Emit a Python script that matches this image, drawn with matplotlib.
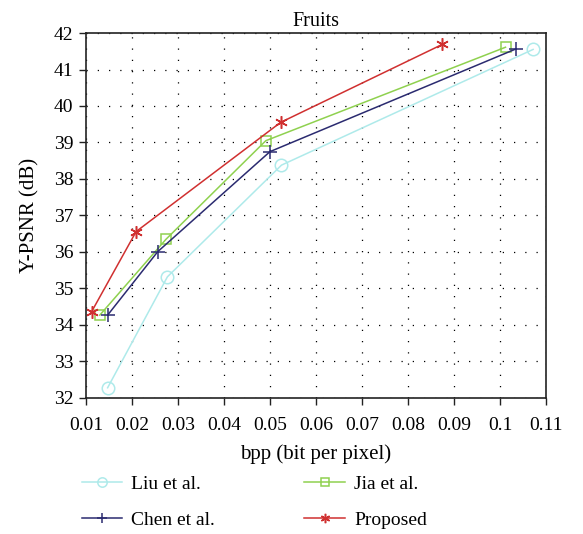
import matplotlib
matplotlib.use("Agg")
import matplotlib.pyplot as plt

# bpp vs Y-PSNR
liu_bpp = [0.0147, 0.0277, 0.0525, 0.1072]
liu_psnr = [32.28, 35.32, 38.38, 41.55]
jia_bpp = [0.0130, 0.0274, 0.0491, 0.1012]
jia_psnr = [34.27, 36.35, 39.05, 41.61]
chen_bpp = [0.0147, 0.0256, 0.0500, 0.1034]
chen_psnr = [34.27, 36.01, 38.75, 41.56]
prop_bpp = [0.0112, 0.0209, 0.0523, 0.0875]
prop_psnr = [34.36, 36.56, 39.55, 41.69]

x_ticks = [0.01, 0.02, 0.03, 0.04, 0.05, 0.06, 0.07, 0.08, 0.09, 0.1, 0.11]
x_labels = ['0.01', '0.02', '0.03', '0.04', '0.05', '0.06', '0.07', '0.08', '0.09', '0.1', '0.11']
y_ticks = list(range(32, 43))

plt.rcParams['font.family'] = ['Liberation Serif', 'DejaVu Serif']


def main():
    fig = plt.figure(figsize=(5.83, 5.34), dpi=100)
    ax = fig.add_axes([0.1475, 0.2547, 0.789, 0.6835])

    l1, = ax.plot(liu_bpp, liu_psnr, color='#aeeaea', lw=1.1, marker='o', ms=9,
                  mfc='none', mec='#aeeaea', mew=1.1, label='Liu et al.')
    l2, = ax.plot(jia_bpp, jia_psnr, color='#8fd14f', lw=1.1, marker='s', ms=7,
                  mfc='none', mec='#8fd14f', mew=1.1, label='Jia et al.')
    l3, = ax.plot(chen_bpp, chen_psnr, color='#2b2b70', lw=1.1, marker='+', ms=10,
                  mew=1.1, label='Chen et al.')
    l4, = ax.plot(prop_bpp, prop_psnr, color='#d03030', lw=1.1, marker=(6, 2, 0), ms=9,
                  mew=1.1, label='Proposed')

    ax.set_xlim(0.01, 0.11)
    ax.set_ylim(32, 42)
    ax.set_xticks(x_ticks)
    ax.set_xticklabels(x_labels)
    ax.set_yticks(y_ticks)
    ax.tick_params(direction='out', length=5, width=1, labelsize=14, color='#222222')
    ax.tick_params(axis='x', pad=9)
    ax.tick_params(axis='y', pad=4)
    for s in ax.spines.values():
        s.set_linewidth(1.2)
        s.set_color('#222222')
    ax.grid(True, color='black', linestyle=(0, (1, 8)), linewidth=0.9)

    ax.set_title('Fruits', fontsize=14.5, pad=5)
    ax.set_xlabel('bpp (bit per pixel)', fontsize=15, labelpad=7)
    ax.set_ylabel('Y-PSNR (dB)', fontsize=15, labelpad=10)

    fig.legend(handles=[l1, l3, l2, l4], ncol=2, loc='upper left',
               bbox_to_anchor=(0.110, 0.143), frameon=False, fontsize=14,
               handlelength=2.1, columnspacing=4.6, labelspacing=0.95, handletextpad=0.45,
               markerscale=0.75)

    fig.savefig('out.png', dpi=100)


if __name__ == "__main__":
    main()
